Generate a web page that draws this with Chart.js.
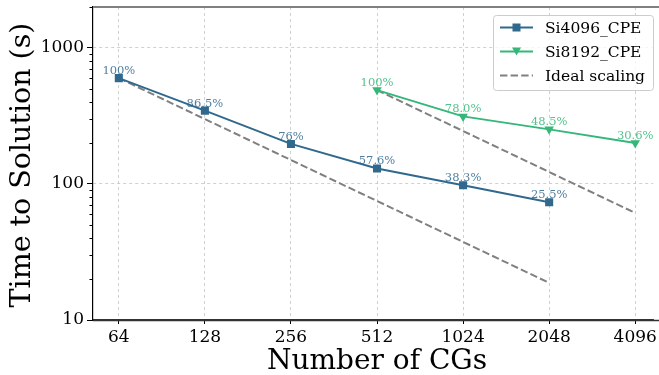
<!DOCTYPE html>
<html><head><meta charset="utf-8">
<script src="https://cdn.jsdelivr.net/npm/chart.js@4"></script>
<style>html,body{margin:0;padding:0;background:#fff}canvas{display:block}</style>
</head><body>
<div style="width:659px;height:375px"><canvas id="c" width="659" height="375"></canvas></div>
<script>
const cgs = [64, 128, 256, 512, 1024, 2048, 4096];
const si4096Cgs = [64, 128, 256, 512, 1024, 2048];
const si4096 = [600, 346, 197, 130, 98, 73.5];
const si4096Eff = ['100%', '86.5%', '76%', '57.6%', '38.3%', '25.5%'];
const si8192Cgs = [512, 1024, 2048, 4096];
const si8192 = [490, 314, 252, 200];
const si8192Eff = ['100%', '78.0%', '48.5%', '30.6%'];
const ideal4096 = [600, 300, 150, 75, 37.5, 18.75];
const ideal8192 = [490, 245, 122.5, 61.25];
const yMajorTicks = [10, 100, 1000];

const BLUE = '#30688e', GREEN = '#35b779', GRAY = '#808080';
const SERIF = '"DejaVu Serif", serif';
const pts = (xs, ys) => xs.map((c, i) => ({x: Math.log2(c), y: ys[i]}));

const allYTicks = [];
for (let d = 10; d <= 1000; d *= 10) for (let m = 1; m <= 9; m++) if (d * m <= 2000) allYTicks.push(d * m);

const overlay = {
  id: 'overlay',
  afterDatasetsDraw(chart) {
    const ctx = chart.ctx, xs = chart.scales.x, ys = chart.scales.y;
    ctx.save();
    ctx.font = '11.5px ' + SERIF;
    ctx.textAlign = 'center';
    ctx.textBaseline = 'alphabetic';
    ctx.fillStyle = 'rgba(48,104,142,0.85)';
    si4096Cgs.forEach((c, i) => ctx.fillText(si4096Eff[i], xs.getPixelForValue(Math.log2(c)), ys.getPixelForValue(si4096[i]) - 4));
    ctx.fillStyle = 'rgba(53,183,121,0.85)';
    si8192Cgs.forEach((c, i) => ctx.fillText(si8192Eff[i], xs.getPixelForValue(Math.log2(c)), ys.getPixelForValue(si8192[i]) - 4));
    ctx.restore();
  },
  afterDraw(chart) {
    const ctx = chart.ctx, a = chart.chartArea, ys = chart.scales.y;
    ctx.save();
    // minor y ticks
    ctx.strokeStyle = '#000'; ctx.lineWidth = 1;
    allYTicks.filter(v => !yMajorTicks.includes(v)).forEach(v => {
      const y = Math.round(ys.getPixelForValue(v)) + 0.5;
      ctx.beginPath(); ctx.moveTo(a.left - 3.5, y); ctx.lineTo(a.left, y); ctx.stroke();
    });
    // top spine and extended bottom spine
    ctx.strokeStyle = GRAY; ctx.lineWidth = 2;
    ctx.beginPath(); ctx.moveTo(a.left, a.top); ctx.lineTo(chart.width, a.top); ctx.stroke();
    ctx.strokeStyle = '#333'; ctx.lineWidth = 1.5;
    ctx.beginPath(); ctx.moveTo(a.left, a.bottom + 0.5); ctx.lineTo(chart.width, a.bottom + 0.5); ctx.stroke();
    // axis titles
    ctx.fillStyle = '#000';
    ctx.font = '28px ' + SERIF;
    ctx.textAlign = 'center'; ctx.textBaseline = 'alphabetic';
    ctx.fillText('Number of CGs', 377, 369);
    ctx.save();
    ctx.font = '28.5px ' + SERIF;
    ctx.translate(30, 165); ctx.rotate(-Math.PI / 2);
    ctx.fillText('Time to Solution (s)', 0, 0);
    ctx.restore();
    // legend
    const bx = 493.5, by = 15.5, bw = 160, bh = 75;
    ctx.fillStyle = 'rgba(255,255,255,0.8)';
    ctx.strokeStyle = '#cccccc'; ctx.lineWidth = 1;
    ctx.beginPath(); ctx.roundRect(bx, by, bw, bh, 3); ctx.fill(); ctx.stroke();
    const rows = [
      {label: 'Si4096_CPE', color: BLUE, marker: 'sq', dash: []},
      {label: 'Si8192_CPE', color: GREEN, marker: 'tri', dash: []},
      {label: 'Ideal scaling', color: GRAY, marker: null, dash: [7.4, 3.2]}
    ];
    rows.forEach((r, i) => {
      const y = 27.5 + i * 24;
      ctx.strokeStyle = r.color; ctx.lineWidth = 2; ctx.setLineDash(r.dash);
      ctx.beginPath(); ctx.moveTo(500, y); ctx.lineTo(533, y); ctx.stroke();
      ctx.setLineDash([]);
      ctx.fillStyle = r.color;
      if (r.marker === 'sq') ctx.fillRect(516.5 - 4, y - 4, 8, 8);
      if (r.marker === 'tri') { ctx.beginPath(); ctx.moveTo(512, y - 4); ctx.lineTo(521, y - 4); ctx.lineTo(516.5, y + 4); ctx.closePath(); ctx.fill(); }
      ctx.fillStyle = '#000'; ctx.font = '15.5px ' + SERIF;
      ctx.textAlign = 'left'; ctx.textBaseline = 'middle';
      ctx.fillText(r.label, 545, y + 1);
    });
    ctx.restore();
  }
};

new Chart(document.getElementById('c'), {
  type: 'line',
  data: {
    datasets: [
      {label: 'Si4096_CPE', data: pts(si4096Cgs, si4096), borderColor: BLUE, backgroundColor: BLUE, borderWidth: 2,
       pointStyle: 'rect', pointRadius: 5.7, pointHoverRadius: 5.7, pointBorderWidth: 0, tension: 0},
      {label: 'Si8192_CPE', data: pts(si8192Cgs, si8192), borderColor: GREEN, backgroundColor: GREEN, borderWidth: 2,
       pointStyle: 'triangle', pointRotation: 180, pointRadius: 5.5, pointHoverRadius: 5.5, pointBorderWidth: 0, tension: 0},
      {label: 'Ideal scaling', data: pts(si4096Cgs, ideal4096), borderColor: GRAY, borderWidth: 2, borderDash: [7.4, 3.2], pointRadius: 0, tension: 0},
      {label: 'Ideal scaling 2', data: pts(si8192Cgs, ideal8192), borderColor: GRAY, borderWidth: 2, borderDash: [7.4, 3.2], pointRadius: 0, tension: 0}
    ]
  },
  options: {
    responsive: false, animation: false, devicePixelRatio: 1,
    layout: {padding: {top: 7, left: 0, right: 0, bottom: 0}},
    plugins: {legend: {display: false}, tooltip: {enabled: false}},
    scales: {
      x: {
        type: 'linear', min: 5.7, max: 12.21,
        afterBuildTicks: s => { s.ticks = cgs.map(c => ({value: Math.log2(c)})); },
        afterFit: s => { s.height = 55; s.paddingLeft = 0; s.paddingRight = 0; },
        ticks: {callback: v => String(Math.round(Math.pow(2, v))), font: {family: SERIF, size: 17}, color: '#000', padding: 3, maxRotation: 0, autoSkip: false},
        grid: {color: '#c4c4c4', lineWidth: 0.8, tickColor: '#000', tickBorderDash: [], tickLength: 4, tickWidth: 1},
        border: {color: '#333', width: 1.5, dash: [3, 3]}
      },
      y: {
        type: 'logarithmic', min: 10, max: 2000,
        afterBuildTicks: s => { s.ticks = allYTicks.map(v => ({value: v, major: yMajorTicks.includes(v)})); },
        afterFit: s => { s.width = 93; s.paddingTop = 0; s.paddingBottom = 0; },
        ticks: {callback: v => yMajorTicks.includes(v) ? String(v) : '', font: {family: SERIF, size: 17}, color: '#000', padding: 3, autoSkip: false},
        grid: {
          color: c => (c.tick && yMajorTicks.includes(c.tick.value)) ? '#c4c4c4' : 'rgba(0,0,0,0)',
          tickColor: c => (c.tick && yMajorTicks.includes(c.tick.value)) ? '#000' : 'rgba(0,0,0,0)',
          lineWidth: 0.8, tickBorderDash: [], tickLength: 6, tickWidth: 1
        },
        border: {color: '#000', width: 1.2, dash: [3, 3]}
      }
    }
  },
  plugins: [overlay]
});
</script>
</body></html>
